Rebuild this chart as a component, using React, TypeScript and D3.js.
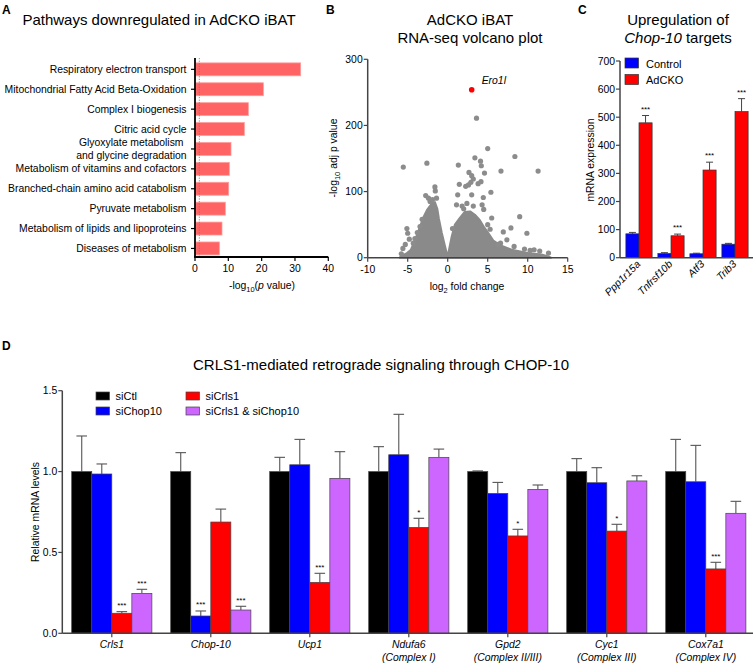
import React from 'react';
import * as d3 from 'd3';

const FONT = '"Liberation Sans", Arial, Helvetica, sans-serif';

// ---------- Panel A data ----------
const pathways = [
  'Respiratory electron transport',
  'Mitochondrial Fatty Acid Beta-Oxidation',
  'Complex I biogenesis',
  'Citric acid cycle',
  'Glyoxylate metabolism|and glycine degradation',
  'Metabolism of vitamins and cofactors',
  'Branched-chain amino acid catabolism',
  'Pyruvate metabolism',
  'Metabolism of lipids and lipoproteins',
  'Diseases of metabolism',
];
const pathwayValues = [31.7, 20.5, 16.0, 14.8, 10.8, 10.3, 10.1, 9.1, 8.1, 7.3];
const pathwayTicks = [0, 10, 20, 30, 40];
const pThreshold = 1.3;

// ---------- Panel B data ----------
const volcanoEnvelope: [number, number][] = [
  [-6.0, 0], [-5.8, 3], [-5.2, 6], [-4.6, 12], [-4.1, 26], [-3.5, 46], [-3.0, 62], [-2.6, 72],
  [-2.0, 82], [-1.6, 84], [-1.3, 74], [-1.1, 59], [-0.75, 38], [-0.35, 18], [-0.1, 6], [0, 2],
  [0.15, 11], [0.5, 32], [0.9, 50], [1.5, 60], [2.1, 69], [2.8, 70], [3.4, 65], [4.0, 57],
  [4.5, 47], [5.1, 37], [5.7, 26], [6.7, 18], [8.0, 12], [10.0, 7], [11.7, 5], [12.6, 2],
  [12.9, 0],
];
const volcanoPoints: [number, number][] = [
  [3.6, 211], [5.0, 165], [8.4, 153], [3.4, 151], [4.1, 146], [4.2, 139], [-2.6, 143],
  [-5.55, 137], [1.33, 140], [11.3, 131], [2.66, 129], [6.66, 131], [4.6, 128], [3.0, 124],
  [3.2, 119], [2.6, 110], [4.16, 115], [2.9, 114], [3.8, 112], [1.45, 111], [2.25, 108],
  [-1.6, 107], [-1.55, 101], [-2.75, 94], [-2.4, 90], [1.25, 95], [3.0, 95], [4.45, 91],
  [5.4, 99], [1.1, 80], [4.3, 80], [4.5, 73], [5.5, 60], [9.0, 62], [6.95, 39], [7.9, 45],
  [9.9, 37], [6.6, 22], [6.3, 20], [7.4, 27], [8.3, 17], [-5.1, 44], [-5.0, 37], [-4.8, 28],
  [-5.6, 14], [-3.46, 47], [-4.1, 29], [-4.3, 22], [-5.3, 20], [11.5, 10], [12.6, 7],
  [10.8, 12], [9.6, 13], [10.3, 11], [-5.8, 6], [-1.9, 88], [-2.2, 85], [-1.4, 90], [1.8, 78],
  [2.4, 82], [3.2, 78], [2.0, 74], [5.0, 50], [5.3, 43], [0.6, 44], [-3.2, 58], [-3.8, 38],
];
const highlightGene = 'Ero1l';
const highlightPoint: [number, number] = [3.0, 254];
const volcanoXTicks = [-10, -5, 0, 5, 10, 15];
const volcanoYTicks = [0, 100, 200, 300];

// ---------- Panel C data ----------
const chopTargets = ['Ppp1r15a', 'Tnfrsf10b', 'Atf3', 'Trib3'];
const controlMean = [85, 15, 14, 48];
const controlErr = [5, 3, 2, 3];
const adckoMean = [480, 78, 312, 520];
const adckoErr = [26, 6, 28, 46];
const adckoStars = ['***', '***', '***', '***'];
const cTicks = [0, 100, 200, 300, 400, 500, 600, 700];
const cSeries = ['Control', 'AdCKO'];

// ---------- Panel D data ----------
const genes = ['Crls1', 'Chop-10', 'Ucp1', 'Ndufa6', 'Gpd2', 'Cyc1', 'Cox7a1'];
const geneComplex = ['', '', '', '(Complex I)', '(Complex II/III)', '(Complex III)', '(Complex IV)'];
const dSeries = ['siCtl', 'siChop10', 'siCrls1', 'siCrls1 & siChop10'];
const siCtl = [1, 1, 1, 1, 1, 1, 1];
const siCtlErr = [0.22, 0.117, 0.088, 0.154, 0.004, 0.08, 0.199];
const siChop10 = [0.985, 0.107, 1.042, 1.104, 0.865, 0.931, 0.937];
const siChop10Err = [0.062, 0.031, 0.157, 0.25, 0.068, 0.093, 0.225];
const siCrls1 = [0.124, 0.688, 0.315, 0.655, 0.602, 0.632, 0.398];
const siCrls1Err = [0.01, 0.08, 0.056, 0.056, 0.041, 0.042, 0.041];
const siBoth = [0.247, 0.144, 0.958, 1.088, 0.89, 0.942, 0.742];
const siBothErr = [0.025, 0.023, 0.165, 0.051, 0.027, 0.032, 0.074];
const siChop10Stars = ['', '***', '', '', '', '', ''];
const siCrls1Stars = ['***', '', '***', '*', '*', '*', '***'];
const siBothStars = ['***', '***', '', '', '', '', ''];
const dTicks = [0, 0.5, 1.0, 1.5];

const dColors = ['#000000', '#0000ff', '#ff0000', '#cc66ff'];
const cColors = ['#0000ff', '#ff0000'];

function PanelA() {
  const x = d3.scaleLinear().domain([0, 40]).range([195, 328.3]);
  const y = d3.scaleBand<string>().domain(pathways).range([59.4, 258.4]).paddingInner(0.35).paddingOuter(0.175);
  const top = 58, bottom = 257;
  return (
    <g>
      <text x={2} y={14} fontSize={12} fontWeight="bold">A</text>
      <text x={159} y={25} fontSize={15} textAnchor="middle">Pathways downregulated in AdCKO iBAT</text>
      {pathways.map((p, i) => (
        <rect key={p} x={x(0) + 0.8} y={y(p)!} width={x(pathwayValues[i]) - x(0) - 0.8} height={y.bandwidth()}
          fill="#ff6363" stroke="#ff9c9c" strokeWidth={0.8} />
      ))}
      <line x1={x(pThreshold)} x2={x(pThreshold)} y1={top} y2={bottom} stroke="#777" strokeWidth={0.8} strokeDasharray="1.2,1.4" />
      <line x1={x(0)} x2={x(0)} y1={top} y2={bottom} stroke="#000" strokeWidth={1.8} />
      <line x1={x(0) - 0.9} x2={x(40)} y1={bottom} y2={bottom} stroke="#000" strokeWidth={1.8} />
      {pathways.map((p) => {
        const cy = y(p)! + y.bandwidth() / 2;
        const lines = p.split('|');
        return (
          <g key={p}>
            <line x1={x(0) - 4} x2={x(0)} y1={cy} y2={cy} stroke="#000" strokeWidth={1.2} />
            {lines.length === 1 ? (
              <text x={186.5} y={cy + 3.6} fontSize={10.4} textAnchor="end">{p}</text>
            ) : (
              <>
                <text x={183.5} y={cy - 2.6} fontSize={10.4} textAnchor="end">{lines[0]}</text>
                <text x={186.5} y={cy + 10.1} fontSize={10.4} textAnchor="end">{lines[1]}</text>
              </>
            )}
          </g>
        );
      })}
      {pathwayTicks.map((t) => (
        <g key={t}>
          <line x1={x(t)} x2={x(t)} y1={bottom} y2={bottom + 4} stroke="#000" strokeWidth={1.2} />
          <text x={x(t)} y={bottom + 15} fontSize={10.4} textAnchor="middle">{t}</text>
        </g>
      ))}
      <text x={262} y={289} fontSize={10.4} textAnchor="middle">
        -log<tspan dy={3} fontSize={7.5}>10</tspan><tspan dy={-3}>(</tspan><tspan fontStyle="italic">p</tspan> value)
      </text>
    </g>
  );
}

function PanelB() {
  const x = d3.scaleLinear().domain([-10, 15]).range([367.7, 567.7]);
  const y = d3.scaleLinear().domain([0, 300]).range([257.7, 59.3]);
  const area = d3.area<[number, number]>().x((d) => x(d[0])).y0(y(0)).y1((d) => y(d[1]));
  const axisColor = '#444';
  return (
    <g>
      <text x={326} y={14} fontSize={12} fontWeight="bold">B</text>
      <text x={470} y={25} fontSize={15} textAnchor="middle">AdCKO iBAT</text>
      <text x={470} y={43} fontSize={15} textAnchor="middle">RNA-seq volcano plot</text>
      <path d={area(volcanoEnvelope)!} fill="#8a8a8a" stroke="#8a8a8a" strokeWidth={2} strokeLinejoin="round" />
      {volcanoPoints.map((p, i) => (
        <circle key={i} cx={x(p[0])} cy={y(p[1])} r={2.6} fill="#8c8c8c" />
      ))}
      <circle cx={x(highlightPoint[0])} cy={y(highlightPoint[1])} r={2.8} fill="#ff0000" />
      <text x={x(highlightPoint[0]) + 10} y={y(highlightPoint[1]) - 6} fontSize={10.4} fontStyle="italic">{highlightGene}</text>
      <line x1={x(-10)} x2={x(-10)} y1={y(300)} y2={y(0)} stroke={axisColor} strokeWidth={1.5} />
      <line x1={x(-10)} x2={x(15)} y1={y(0)} y2={y(0)} stroke={axisColor} strokeWidth={1.5} />
      {volcanoYTicks.map((t) => (
        <g key={t}>
          <line x1={x(-10) - 4} x2={x(-10)} y1={y(t)} y2={y(t)} stroke={axisColor} strokeWidth={1.2} />
          <text x={x(-10) - 5} y={y(t) + 3.6} fontSize={10.4} textAnchor="end">{t}</text>
        </g>
      ))}
      {volcanoXTicks.map((t) => (
        <g key={t}>
          <line x1={x(t)} x2={x(t)} y1={y(0)} y2={y(0) + 4} stroke={axisColor} strokeWidth={1.2} />
          <text x={x(t)} y={y(0) + 15} fontSize={10.4} textAnchor="middle">{t}</text>
        </g>
      ))}
      <text x={467} y={290} fontSize={10.4} textAnchor="middle">
        log<tspan dy={3} fontSize={7.5}>2</tspan><tspan dy={-3}> fold change</tspan>
      </text>
      <text transform={`translate(337,158) rotate(-90)`} fontSize={10.4} textAnchor="middle">
        -log<tspan dy={3} fontSize={7.5}>10</tspan><tspan dy={-3}> adj p value</tspan>
      </text>
    </g>
  );
}

function PanelC() {
  const y = d3.scaleLinear().domain([0, 700]).range([257.7, 61]);
  const xg = d3.scaleBand<string>().domain(chopTargets).range([623, 751]).paddingInner(0.18).paddingOuter(0.09);
  const xs = d3.scaleBand<string>().domain(cSeries).range([0, xg.bandwidth()]);
  const axisX = 620;
  const series = [
    { name: 'Control', mean: controlMean, err: controlErr, stars: chopTargets.map(() => '') },
    { name: 'AdCKO', mean: adckoMean, err: adckoErr, stars: adckoStars },
  ];
  return (
    <g>
      <text x={578} y={14} fontSize={12} fontWeight="bold">C</text>
      <text x={678} y={25} fontSize={15} textAnchor="middle">Upregulation of</text>
      <text x={678} y={43} fontSize={15} textAnchor="middle"><tspan fontStyle="italic">Chop-10</tspan> targets</text>
      {series.map((s, si) =>
        chopTargets.map((g, gi) => {
          const bx = xg(g)! + xs(s.name)!;
          const w = xs.bandwidth();
          const cx = bx + w / 2;
          const yt = y(s.mean[gi]);
          const ye = y(s.mean[gi] + s.err[gi]);
          return (
            <g key={s.name + g}>
              <line x1={cx} x2={cx} y1={yt} y2={ye} stroke="#444" strokeWidth={1} />
              <line x1={cx - 3.5} x2={cx + 3.5} y1={ye} y2={ye} stroke="#444" strokeWidth={1} />
              <rect x={bx} y={yt} width={w} height={y(0) - yt} fill={cColors[si]} stroke="#333" strokeWidth={0.7} />
              {s.stars[gi] && (
                <text x={cx} y={ye - 4} fontSize={8} textAnchor="middle">{s.stars[gi]}</text>
              )}
            </g>
          );
        })
      )}
      <line x1={axisX} x2={axisX} y1={y(700)} y2={y(0)} stroke="#444" strokeWidth={1.5} />
      <line x1={axisX} x2={753} y1={y(0)} y2={y(0)} stroke="#444" strokeWidth={1.5} />
      {cTicks.map((t) => (
        <g key={t}>
          <line x1={axisX - 4} x2={axisX} y1={y(t)} y2={y(t)} stroke="#444" strokeWidth={1.2} />
          <text x={axisX - 5} y={y(t) + 3.6} fontSize={10.4} textAnchor="end">{t}</text>
        </g>
      ))}
      {chopTargets.map((g) => {
        const cx = xg(g)! + xg.bandwidth() / 2;
        return (
          <text key={g} transform={`translate(${cx + 2},${y(0) + 7}) rotate(-45)`} fontSize={10.4} fontStyle="italic" textAnchor="end">{g}</text>
        );
      })}
      <text transform={`translate(594,160) rotate(-90)`} fontSize={10.4} textAnchor="middle">mRNA expression</text>
      {cSeries.map((s, i) => (
        <g key={s}>
          <rect x={625} y={58 + i * 16.5} width={13.5} height={10} fill={cColors[i]} stroke="#333" strokeWidth={0.7} />
          <text x={646} y={67.5 + i * 16.5} fontSize={11}>{s}</text>
        </g>
      ))}
    </g>
  );
}

function PanelD() {
  const y = d3.scaleLinear().domain([0, 1.5]).range([633.3, 390.7]);
  const xg = d3.scaleBand<string>().domain(genes).range([62.3, 755.3]).paddingInner(0.19).paddingOuter(0.095);
  const xs = d3.scaleBand<string>().domain(dSeries).range([0, xg.bandwidth()]);
  const axisX = 62.3;
  const series = [
    { name: dSeries[0], mean: siCtl, err: siCtlErr, stars: genes.map(() => '') },
    { name: dSeries[1], mean: siChop10, err: siChop10Err, stars: siChop10Stars },
    { name: dSeries[2], mean: siCrls1, err: siCrls1Err, stars: siCrls1Stars },
    { name: dSeries[3], mean: siBoth, err: siBothErr, stars: siBothStars },
  ];
  return (
    <g>
      <text x={2} y={350} fontSize={12} fontWeight="bold">D</text>
      <text x={381} y={370} fontSize={15} textAnchor="middle">CRLS1-mediated retrograde signaling through CHOP-10</text>
      {series.map((s, si) =>
        genes.map((g, gi) => {
          const bx = xg(g)! + xs(s.name)!;
          const w = xs.bandwidth();
          const cx = bx + w / 2;
          const yt = y(s.mean[gi]);
          const ye = y(s.mean[gi] + s.err[gi]);
          return (
            <g key={s.name + g}>
              <line x1={cx} x2={cx} y1={yt} y2={ye} stroke="#555" strokeWidth={1.1} />
              <line x1={cx - 5.3} x2={cx + 5.3} y1={ye} y2={ye} stroke="#555" strokeWidth={1.1} />
              <rect x={bx} y={yt} width={w} height={y(0) - yt} fill={dColors[si]} stroke="#444" strokeWidth={0.7} />
              {s.stars[gi] && (
                <text x={cx} y={ye - 3.5} fontSize={8} textAnchor="middle">{s.stars[gi]}</text>
              )}
            </g>
          );
        })
      )}
      <line x1={axisX} x2={axisX} y1={y(1.5)} y2={y(0)} stroke="#444" strokeWidth={1.5} />
      <line x1={axisX} x2={753} y1={y(0)} y2={y(0)} stroke="#444" strokeWidth={1.5} />
      {dTicks.map((t) => (
        <g key={t}>
          <line x1={axisX - 4} x2={axisX} y1={y(t)} y2={y(t)} stroke="#444" strokeWidth={1.2} />
          <text x={axisX - 5} y={y(t) + 3.6} fontSize={10.4} textAnchor="end">{t.toFixed(1)}</text>
        </g>
      ))}
      {genes.map((g, gi) => {
        const cx = xg(g)! + xg.bandwidth() / 2;
        return (
          <g key={g}>
            <line x1={cx} x2={cx} y1={y(0)} y2={y(0) + 4} stroke="#444" strokeWidth={1.2} />
            <text x={cx} y={648} fontSize={10.4} fontStyle="italic" textAnchor="middle">{g}</text>
            {geneComplex[gi] && (
              <text x={cx} y={661} fontSize={10.4} fontStyle="italic" textAnchor="middle">{geneComplex[gi]}</text>
            )}
          </g>
        );
      })}
      <text transform={`translate(39,512) rotate(-90)`} fontSize={10.4} textAnchor="middle">Relative mRNA levels</text>
      {dSeries.map((s, i) => {
        const col = Math.floor(i / 2);
        const row = i % 2;
        const lx = col === 0 ? 96 : 186;
        return (
          <g key={s}>
            <rect x={lx} y={392 + row * 15} width={13.5} height={8} fill={dColors[i]} stroke="#444" strokeWidth={0.7} />
            <text x={lx + 19.5} y={400 + row * 15} fontSize={11}>{s}</text>
          </g>
        );
      })}
    </g>
  );
}

export default function App() {
  return (
    <svg width={755} height={666} viewBox="0 0 755 666" fontFamily={FONT}
      style={{ position: 'absolute', left: 0, top: 0, background: '#fff' }}>
      <rect x={0} y={0} width={755} height={666} fill="#fff" />
      <PanelA />
      <PanelB />
      <PanelC />
      <PanelD />
    </svg>
  );
}
